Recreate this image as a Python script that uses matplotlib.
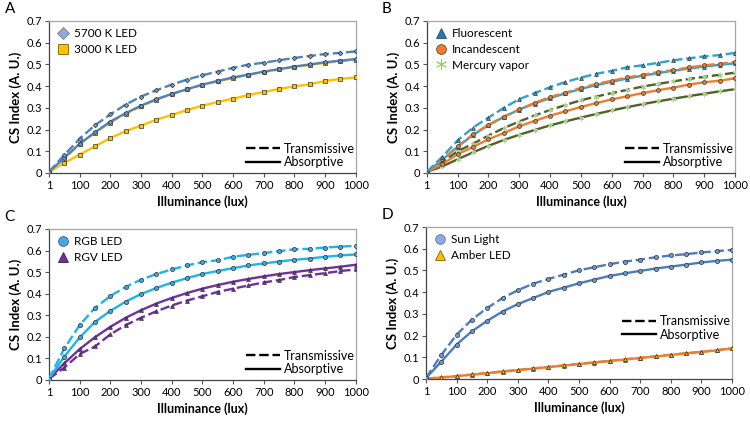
import numpy as np
import matplotlib
matplotlib.use("Agg")
from matplotlib import pyplot as plt
from matplotlib.lines import Line2D

plt.rcParams['font.family'] = ['Lato', 'DejaVu Sans']

# Illuminance categories (lux)
lux = [1, 50, 100, 150, 200, 250, 300, 350, 400, 450, 500,
       550, 600, 650, 700, 750, 800, 850, 900, 950, 1000]
tick_labels = [str(v) for v in lux[::2]]

# Panel A
led5700_trans = [0.005, 0.083, 0.158, 0.220, 0.270, 0.315, 0.352, 0.381, 0.407, 0.430, 0.450,
                 0.467, 0.484, 0.499, 0.508, 0.519, 0.530, 0.539, 0.548, 0.553, 0.560]
led5700_abs = [0.005, 0.070, 0.135, 0.187, 0.237, 0.275, 0.310, 0.340, 0.364, 0.386, 0.407,
               0.424, 0.440, 0.453, 0.467, 0.478, 0.490, 0.500, 0.510, 0.517, 0.525]
led3000_trans = [0.005, 0.065, 0.133, 0.185, 0.232, 0.273, 0.307, 0.337, 0.362, 0.385, 0.405,
                 0.422, 0.437, 0.452, 0.465, 0.477, 0.488, 0.498, 0.507, 0.515, 0.520]
led3000_abs = [0.005, 0.046, 0.085, 0.123, 0.161, 0.193, 0.218, 0.246, 0.267, 0.290, 0.310,
               0.327, 0.342, 0.359, 0.373, 0.387, 0.399, 0.408, 0.424, 0.433, 0.440]

# Panel B
fluor_trans = [0.005, 0.074, 0.150, 0.209, 0.255, 0.300, 0.340, 0.368, 0.395, 0.419, 0.439,
               0.457, 0.470, 0.487, 0.496, 0.507, 0.519, 0.528, 0.537, 0.543, 0.553]
fluor_abs = [0.005, 0.060, 0.120, 0.175, 0.220, 0.258, 0.292, 0.320, 0.345, 0.367, 0.387,
             0.405, 0.420, 0.435, 0.448, 0.460, 0.471, 0.481, 0.490, 0.498, 0.505]
incand_trans = [0.005, 0.063, 0.123, 0.178, 0.222, 0.260, 0.293, 0.323, 0.350, 0.370, 0.392,
                0.410, 0.425, 0.440, 0.452, 0.465, 0.474, 0.486, 0.496, 0.503, 0.512]
incand_abs = [0.005, 0.040, 0.086, 0.120, 0.155, 0.184, 0.215, 0.240, 0.264, 0.284, 0.304,
              0.322, 0.339, 0.353, 0.368, 0.381, 0.393, 0.407, 0.418, 0.425, 0.436]
mercury_trans = [0.005, 0.050, 0.100, 0.135, 0.172, 0.207, 0.237, 0.265, 0.290, 0.313, 0.335,
                 0.352, 0.368, 0.383, 0.398, 0.410, 0.422, 0.433, 0.443, 0.452, 0.462]
mercury_abs = [0.005, 0.030, 0.063, 0.095, 0.125, 0.152, 0.176, 0.198, 0.219, 0.238, 0.255,
               0.272, 0.288, 0.303, 0.317, 0.330, 0.342, 0.354, 0.365, 0.376, 0.386]

# Panel C
rgb_trans = [0.005, 0.146, 0.254, 0.334, 0.389, 0.431, 0.465, 0.491, 0.512, 0.531, 0.546,
             0.555, 0.571, 0.580, 0.588, 0.597, 0.606, 0.608, 0.614, 0.618, 0.622]
rgb_abs = [0.005, 0.108, 0.197, 0.269, 0.320, 0.363, 0.398, 0.426, 0.451, 0.472, 0.491,
           0.505, 0.518, 0.531, 0.540, 0.549, 0.557, 0.563, 0.571, 0.577, 0.582]
rgv_trans = [0.005, 0.057, 0.120, 0.155, 0.211, 0.254, 0.288, 0.318, 0.345, 0.368, 0.388,
             0.408, 0.423, 0.438, 0.452, 0.463, 0.477, 0.486, 0.495, 0.505, 0.512]
rgv_abs = [0.005, 0.077, 0.143, 0.198, 0.246, 0.288, 0.323, 0.354, 0.380, 0.403, 0.423,
           0.440, 0.455, 0.468, 0.480, 0.491, 0.500, 0.509, 0.517, 0.525, 0.534]

# Panel D
sun_trans = [0.005, 0.111, 0.204, 0.274, 0.327, 0.373, 0.409, 0.439, 0.461, 0.481, 0.501,
             0.515, 0.529, 0.541, 0.550, 0.561, 0.569, 0.575, 0.583, 0.589, 0.595]
sun_abs = [0.005, 0.080, 0.159, 0.220, 0.268, 0.311, 0.345, 0.373, 0.401, 0.421, 0.441,
           0.458, 0.475, 0.487, 0.498, 0.509, 0.518, 0.527, 0.537, 0.544, 0.550]
amber_trans = [0.002, 0.008, 0.014, 0.021, 0.028, 0.035, 0.042, 0.049, 0.056, 0.063, 0.070,
               0.077, 0.084, 0.091, 0.098, 0.105, 0.112, 0.119, 0.126, 0.133, 0.143]
amber_abs = [0.002, 0.007, 0.013, 0.020, 0.027, 0.034, 0.041, 0.048, 0.055, 0.062, 0.069,
             0.076, 0.083, 0.090, 0.097, 0.104, 0.111, 0.118, 0.125, 0.132, 0.141]

x = np.arange(len(lux))

fig = plt.figure(figsize=(7.5, 4.24), dpi=100)
axA = fig.add_axes([0.0653, 0.592, 0.409, 0.3585])
axB = fig.add_axes([0.569, 0.592, 0.411, 0.3585])
axC = fig.add_axes([0.0653, 0.104, 0.409, 0.356])
axD = fig.add_axes([0.568, 0.106, 0.408, 0.3585])


def draw(ax, y, color, ls, marker, mfc, ms=2.6, mec="#333333"):
    ax.plot(x, y, color=color, ls=ls, lw=1.7, dashes=(4, 1.6) if ls == "--" else (None, None),
            marker=marker, ms=ms, mfc=mfc, mec=mec, mew=0.5, zorder=3)


def setup(ax, letter, series, style_y):
    ax.set_xlim(0, 20)
    ax.set_ylim(0, 0.7)
    ax.set_xticks(x[::2])
    ax.set_xticklabels(tick_labels)
    ax.set_yticks(np.arange(0, 0.71, 0.1))
    ax.set_yticklabels(["0"] + ["%.1f" % v for v in np.arange(0.1, 0.71, 0.1)])
    ax.tick_params(labelsize=8, length=3, width=0.8, color="#555555", pad=2)
    for side in ("left", "bottom"):
        ax.spines[side].set_color("#444444")
        ax.spines[side].set_linewidth(0.9)
    for side in ("top", "right"):
        ax.spines[side].set_color("#a6a6a6")
        ax.spines[side].set_linewidth(0.9)
    ax.set_ylabel("CS Index (A. U.)", fontsize=9.5, fontweight="bold", labelpad=3)
    ax.set_xlabel("Illuminance (lux)", fontsize=9, fontweight="bold", labelpad=3)
    ax.text(-0.145, 1.03, letter, transform=ax.transAxes, fontsize=11, va="bottom", ha="left")
    handles = [Line2D([], [], ls="none", marker=m, ms=s, mfc=c, mec=e, mew=0.6)
               for m, s, c, e in series[1]]
    leg1 = ax.legend(handles, series[0], loc="upper left", frameon=False, fontsize=8.5,
                     handletextpad=0.3, labelspacing=0.4, borderaxespad=0.2,
                     handlelength=1.2)
    ax.add_artist(leg1)
    style = [Line2D([], [], color="black", lw=1.7, dashes=(4, 1.6)),
             Line2D([], [], color="black", lw=1.7)]
    ax.legend(style, ["Transmissive", "Absorptive"], loc="lower right", frameon=False,
              fontsize=9, handlelength=2.7, handletextpad=0.3, labelspacing=0.1,
              borderaxespad=0.0, borderpad=0.1, bbox_to_anchor=(1.0, style_y))


# A
draw(axA, led3000_abs, "#FFC000", "-", "s", "#FFC000", 2.4)
draw(axA, led3000_trans, "#FFC000", "--", "s", "#FFC000", 2.4)
draw(axA, led5700_abs, "#4F81BD", "-", "D", "#6F98CF", 2.4)
draw(axA, led5700_trans, "#4F81BD", "--", "D", "#6F98CF", 2.4)
setup(axA, "A", (["5700 K LED", "3000 K LED"],
                 [("D", 6.5, "#8EA9DB", "#7f7f7f"), ("s", 7, "#FFC000", "#7f6000")]), 0.025)

# B
draw(axB, mercury_abs, "#4F6228", "-", (6, 2, 0), "#A9D18E", 4, "#A9D18E")
draw(axB, mercury_trans, "#4F6228", "--", (6, 2, 0), "#A9D18E", 4, "#A9D18E")
draw(axB, incand_abs, "#ED7D31", "-", "o", "#ED7D31", 2.8)
draw(axB, fluor_abs, "#31A2CC", "-", "^", "#31A2CC", 2.8)
draw(axB, incand_trans, "#ED7D31", "--", "o", "#ED7D31", 2.8)
draw(axB, fluor_trans, "#31A2CC", "--", "^", "#31A2CC", 2.8)
setup(axB, "B", (["Fluorescent", "Incandescent", "Mercury vapor"],
                 [("^", 7, "#2E75B6", "#1f4e79"), ("o", 7, "#ED7D31", "#843c0c"),
                  ((6, 2, 0), 8, "#92D050", "#92D050")]), 0.025)

# C
draw(axC, rgv_abs, "#7030A0", "-", "^", "#7030A0", 2.8)
draw(axC, rgv_trans, "#7030A0", "--", "^", "#7030A0", 2.8)
draw(axC, rgb_abs, "#1CB4EC", "-", "o", "#3FA9E0", 3)
draw(axC, rgb_trans, "#1CB4EC", "--", "o", "#3FA9E0", 3)
setup(axC, "C", (["RGB LED", "RGV LED"],
                 [("o", 7, "#4FA3DF", "#2f5f8f"), ("^", 7, "#7030A0", "#3f1a5a")]), 0.025)

# D
draw(axD, amber_abs, "#ED7D31", "-", "^", "#FFC000", 2.8)
draw(axD, amber_trans, "#ED7D31", "--", "^", "#FFC000", 2.8)
draw(axD, sun_abs, "#4A7CC4", "-", "o", "#6F98CF", 3)
draw(axD, sun_trans, "#4A7CC4", "--", "o", "#6F98CF", 3)
setup(axD, "D", (["Sun Light", "Amber LED"],
                 [("o", 7, "#8EA9DB", "#5f7fae"), ("^", 7, "#FFC000", "#7f6000")]), 0.245)

fig.savefig("out.png", dpi=100)
